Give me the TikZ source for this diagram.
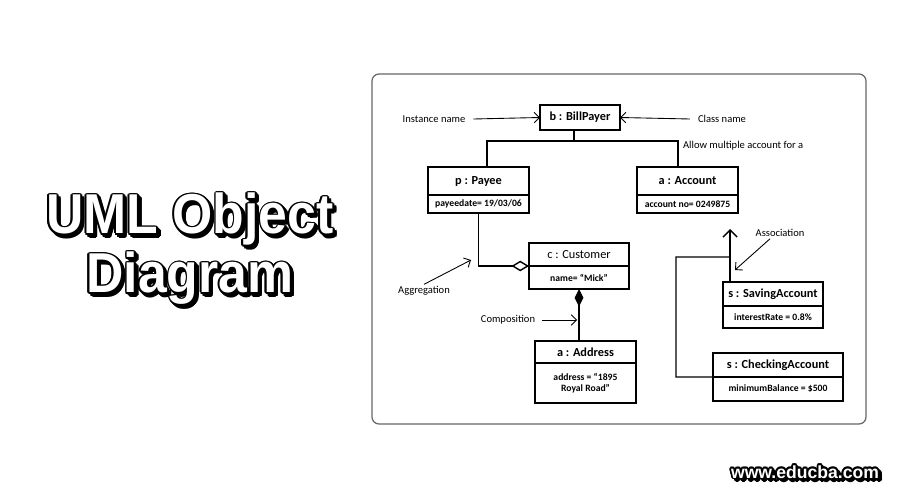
\documentclass[tikz,border=0pt]{standalone}
\usepackage{fontspec}
\setmainfont{Carlito}
\newfontfamily\titlefont[FakeStretch=0.92]{Liberation Sans}
\newfontfamily\webfont{Liberation Sans}
\usepackage{tikz}
\usetikzlibrary{calc,positioning,arrows.meta}

\tikzset{
	objhead/.style={draw, line width=1pt, outer sep=0pt, inner sep=1pt, font=\fontsize{7}{8}\selectfont\bfseries},
	objbody/.style={draw, line width=1pt, outer sep=0pt, inner sep=1pt, align=center, font=\fontsize{5.5}{6}\selectfont\bfseries},
	lbl/.style={font=\fontsize{6}{7}\selectfont, inner sep=1pt},
	lblarrow/.style={line width=0.5pt, -{Straight Barb[length=3pt,width=6pt]}},
	link/.style={line width=0.8pt}
}

% white letters with a black rim and a drop shadow
\newcommand{\rimtext}[4]{%
	\foreach \a in {0,45,...,315}
	\node[anchor=base, font=#3, text=black] at ($(#2)+(\a:1.8)+(2.5,2.5)$) {#4};
	\foreach \a in {0,30,...,330}
	\node[anchor=base, font=#3, text=black] at ($(#2)+(\a:1.8)$) {#4};
	\node[anchor=base, font=#3, text=white] (#1) at (#2) {#4};
}

\begin{document}
\begin{tikzpicture}[x=0.02cm,y=-0.02cm]
	\useasboundingbox (0,0) rectangle (900,500);
	\fill[white] (0,0) rectangle (900,500);
	% title
	\rimtext{title1}{190,234}{\titlefont\bfseries\fontsize{32}{32}\selectfont}{UML Object}
	\rimtext{title2}{190,293}{\titlefont\bfseries\fontsize{32}{32}\selectfont}{Diagram}
	\rimtext{web}{805,478}{\webfont\bfseries\fontsize{10}{10}\selectfont}{www.educba.com}
	% frame
	\draw[black!60, line width=0.7pt, rounded corners=0.14cm] (372,74) rectangle (866,424);
	% objects
	\node[objhead, minimum width=1.6cm, minimum height=0.5cm] (bill) at (580,117.5) {b : BillPayer};
	\node[objhead, minimum width=2.02cm, minimum height=0.56cm] (payeehead) at (478.5,181) {p : Payee};
	\node[objbody, minimum width=2.02cm, minimum height=0.36cm, below=0pt of payeehead] (payeebody) {payeedate= 19/03/06};
	\node[objhead, minimum width=2.02cm, minimum height=0.56cm] (accthead) at (687.5,181) {a : Account};
	\node[objbody, minimum width=2.02cm, minimum height=0.36cm, below=0pt of accthead] (acctbody) {account no= 0249875};
	\node[objhead, font=\fontsize{7}{8}\selectfont, minimum width=2cm, minimum height=0.46cm] (custhead) at (579,254.5) {c : Customer};
	\node[objbody, minimum width=2cm, minimum height=0.46cm, below=0pt of custhead] (custbody) {name= ``Mick''};
	\node[objhead, minimum width=2.02cm, minimum height=0.44cm] (addrhead) at (585.5,352) {a : Address};
	\node[objbody, minimum width=2.02cm, minimum height=0.8cm, below=0pt of addrhead] (addrbody) {address = ``1895\\Royal Road''};
	\node[objhead, minimum width=2cm, minimum height=0.48cm] (savehead) at (773,294) {s : SavingAccount};
	\node[objbody, minimum width=2cm, minimum height=0.44cm, below=0pt of savehead] (savebody) {interestRate = 0.8\%};
	\node[objhead, minimum width=2.6cm, minimum height=0.48cm] (checkhead) at (778,365) {s : CheckingAccount};
	\node[objbody, minimum width=2.6cm, minimum height=0.48cm, below=0pt of checkhead] (checkbody) {minimumBalance = \$500};
	% links
	\coordinate[below=0.22cm of bill.south] (split);
	\draw[link] ([xshift=-0.12cm]bill.south) -- ([xshift=-0.12cm]split) -| ([xshift=0.17cm]payeehead.north);
	\draw[link] ([xshift=-0.12cm]split) -| ([xshift=-0.19cm]accthead.north);
	\draw[link, -{Diamond[open,length=10pt,width=6pt]}] (payeebody.south) |- (custhead.south west);
	\draw[link, {Diamond[length=10pt,width=5pt]}-] (custbody.south) -- (custbody.south |- addrhead.north);
	\coordinate (assocfoot) at ([xshift=0.14cm]savehead.north west);
	\coordinate (assoctop) at ([yshift=1.06cm]assocfoot);
	\coordinate (assocjoin) at ([yshift=0.5cm]assocfoot);
	\coordinate (assocbend) at (676,257);
	\draw[link, -{Straight Barb[length=4pt,width=8pt]}] (assocfoot) -- (assoctop);
	\draw[link] (assocjoin) -- (assocbend) |- (checkhead.south west);
	% labels
	\node[lbl] (instlbl) at (434,119) {Instance name};
	\node[lbl] (classlbl) at (722,119) {Class name};
	\node[lbl, anchor=west] (multilbl) at (681,146) {Allow multiple account for a};
	\node[lbl] (agglbl) at (424,291) {Aggregation};
	\node[lbl] (complbl) at (508,320) {Composition};
	\node[lbl] (assoclbl) at (780,233) {Association};
	\coordinate (aggtip) at (471,260);
	\coordinate (comptip) at (577,320);
	\coordinate (assoctip) at (735,270);
	\draw[lblarrow] ([xshift=0.12cm]instlbl.east) -- (bill.west);
	\draw[lblarrow] ([xshift=-0.12cm]classlbl.west) -- (bill.east);
	\draw[lblarrow] (agglbl.north) -- (aggtip);
	\draw[lblarrow] ([xshift=0.1cm]complbl.east) -- (comptip);
	\draw[lblarrow] ([xshift=-0.2cm]assoclbl.south) -- (assoctip);
\end{tikzpicture}
\end{document}
